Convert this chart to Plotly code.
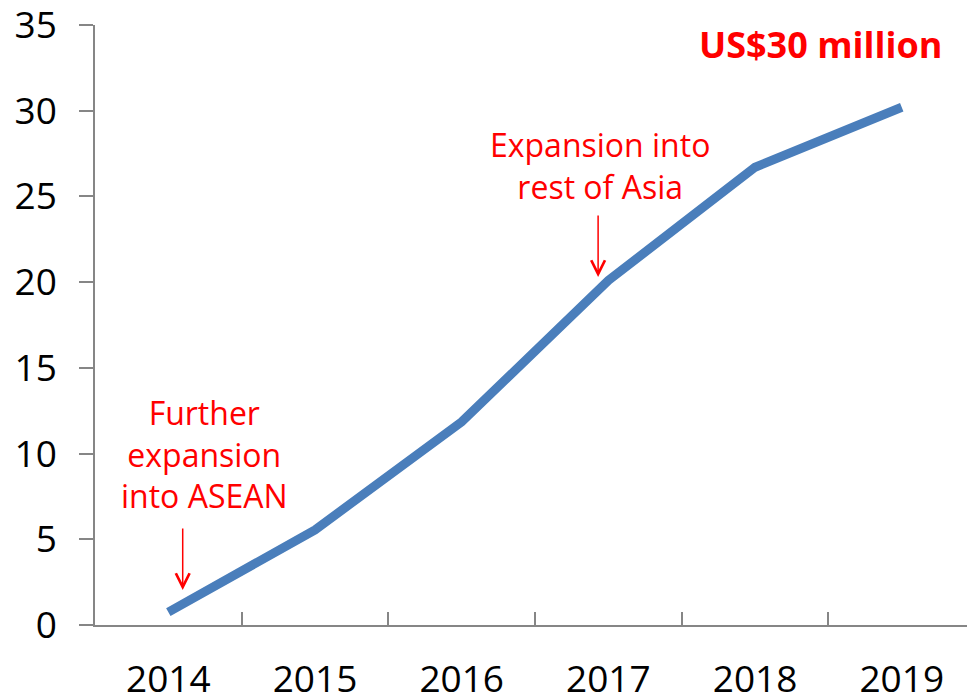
import plotly.graph_objects as go

years = ["2014", "2015", "2016", "2017", "2018", "2019"]
revenue = [0.75, 5.55, 11.85, 20.1, 26.7, 30.2]
y_ticks = [0, 5, 10, 15, 20, 25, 30, 35]

label_top = "US$30 million"
label_asia = "Expansion into<br>rest of Asia"
label_asean = "Further<br>expansion<br>into ASEAN"

RED = "#FF0000"
BLUE = "#4A7EBB"
AXIS = "#868686"
FONT = "Open Sans"

fig = go.Figure()
fig.add_trace(go.Scatter(
    x=years, y=revenue, mode="lines",
    line=dict(color=BLUE, width=9),
    hoverinfo="skip", showlegend=False,
))

fig.update_layout(
    width=967, height=695,
    margin=dict(l=95, r=0, t=25, b=70),
    paper_bgcolor="white", plot_bgcolor="white",
    font=dict(family=FONT, color="black"),
    showlegend=False,
)
fig.update_xaxes(
    type="category", range=[-0.5, 5.445], automargin=False,
    showline=True, linecolor=AXIS, linewidth=1.5,
    ticks="inside", tickson="boundaries", ticklen=13, tickcolor=AXIS, tickwidth=1.5,
    showgrid=False, zeroline=False,
    tickfont=dict(family=FONT, size=37, color="black"),
    ticklabelstandoff=21, ticklabeloverflow="allow",
)
fig.update_yaxes(
    range=[0, 35], tickvals=y_ticks, automargin=False,
    showline=True, linecolor=AXIS, linewidth=1.5,
    ticks="outside", ticklen=14, tickcolor=AXIS, tickwidth=1.5,
    showgrid=False, zeroline=False,
    tickfont=dict(family=FONT, size=37, color="black"),
    ticklabelstandoff=15, ticklabeloverflow="allow",
)

fig.add_annotation(
    text=label_top, xref="paper", yref="paper", x=0.9735, y=0.967,
    xanchor="right", yanchor="middle", showarrow=False,
    font=dict(family=FONT, size=36, color=RED, weight="bold"),
)
fig.add_annotation(
    text=label_asia, xref="x", yref="y", x=2.94, y=26.8,
    xanchor="center", yanchor="middle", showarrow=False, align="center",
    font=dict(family=FONT, size=32, color=RED),
)
fig.add_annotation(
    text=label_asean, xref="x", yref="y", x=0.245, y=9.97,
    xanchor="center", yanchor="middle", showarrow=False, align="center",
    font=dict(family=FONT, size=32, color=RED),
)
# arrows
for ax_x, ax_y in [(2.93, 20.3), (0.098, 2.04)]:
    fig.add_annotation(
        text="", xref="x", yref="y", x=ax_x, y=ax_y,
        showarrow=True, ax=0, ay=-63, arrowhead=5, arrowsize=1.8,
        arrowwidth=1.5, arrowcolor=RED,
    )

fig.write_html(
    "out.html",
    config={"displayModeBar": False},
    post_script="document.body.style.margin='0';document.body.style.overflow='hidden';",
)
